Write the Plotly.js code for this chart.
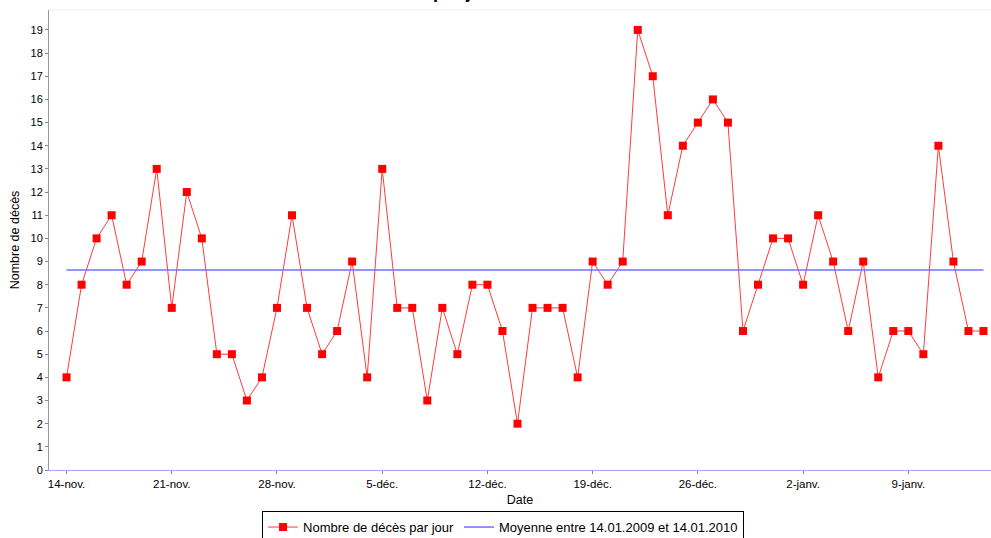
<!DOCTYPE html>
<html>
<head>
<meta charset="utf-8">
<script src="https://cdn.plot.ly/plotly-3.0.1.min.js"></script>
<style>
html,body{margin:0;padding:0;background:#fff;}
#chart{width:991px;height:538px;}
</style>
</head>
<body>
<div id="chart"></div>
<script>
// Daily dates 14.11.2009 -> 14.01.2010
const startDate = '2009-11-14';
const deaths = [4,8,10,11,8,9,13,7,12,10,
                5,5,3,4,7,11,7,5,6,9,
                4,13,7,7,3,7,5,8,8,6,
                2,7,7,7,4,9,8,9,19,17,
                11,14,15,16,15,6,8,10,10,8,
                11,9,6,9,4,6,6,5,14,9,
                6,6];
const meanDates = ['2009-11-14', '2010-01-14'];
const meanValues = [8.64, 8.64];
const tickDates = ['2009-11-14','2009-11-21','2009-11-28','2009-12-05','2009-12-12','2009-12-19','2009-12-26','2010-01-02','2010-01-09'];
const tickLabels = ['14-nov.','21-nov.','28-nov.','5-déc.','12-déc.','19-déc.','26-déc.','2-janv.','9-janv.'];
const seriesNames = ['Nombre de décès par jour', 'Moyenne entre 14.01.2009 et 14.01.2010'];
const titleText = 'Nombre de décès par jour du 14.11.2009 au 14.01.2010';

const dates = deaths.map((_, i) => {
  const d = new Date(startDate + 'T00:00:00Z');
  d.setUTCDate(d.getUTCDate() + i);
  return d.toISOString().slice(0, 10);
});

const font = 'Liberation Sans, Arial, sans-serif';

const traces = [
  {
    x: dates, y: deaths, type: 'scatter', mode: 'lines+markers',
    name: seriesNames[0],
    line: {color: '#ff3c3c', width: 1},
    marker: {symbol: 'square', size: 8, color: '#ff0000'}
  },
  {
    x: meanDates, y: meanValues, type: 'scatter', mode: 'lines',
    name: seriesNames[1],
    line: {color: '#7070ff', width: 1.5}
  }
];

const layout = {
  width: 991, height: 538,
  margin: {l: 49, r: 0, t: 10, b: 68},
  paper_bgcolor: '#ffffff', plot_bgcolor: '#ffffff',
  font: {family: font, size: 11, color: '#000'},
  showlegend: true,
  legend: {
    orientation: 'h', x: 0.5076, xref: 'container', xanchor: 'center',
    y: 0.05, yref: 'container', yanchor: 'top',
    bordercolor: '#000', borderwidth: 1, bgcolor: '#fff',
    font: {family: font, size: 13, color: '#000'},
    itemwidth: 30, tracegroupgap: 0
  },
  xaxis: {
    type: 'date',
    range: ['2009-11-12 20:00', '2010-01-14 12:00'],
    tickvals: tickDates, ticktext: tickLabels,
    ticks: 'outside', ticklen: 3, tickcolor: '#888',
    showgrid: false, zeroline: false,
    showline: true, linecolor: '#a8a8e8', linewidth: 1,
    tickfont: {family: font, size: 11.5, color: '#000'},
    title: {text: 'Date', font: {family: font, size: 12.5, color: '#000'}, standoff: 6},
    automargin: false
  },
  yaxis: {
    range: [0, 19.86],
    tickmode: 'linear', tick0: 0, dtick: 1,
    ticks: 'outside', ticklen: 3, tickcolor: '#888',
    showgrid: false, zeroline: false,
    showline: true, linecolor: '#999', linewidth: 1,
    tickfont: {family: font, size: 11, color: '#000'},
    title: {text: 'Nombre de décès', font: {family: font, size: 12.5, color: '#000'}, standoff: 8},
    automargin: false
  },
  annotations: [
    {text: '<b>' + titleText + '</b>', xref: 'paper', yref: 'paper',
     x: 0.489, y: 1, xanchor: 'center', yanchor: 'bottom', yshift: 6,
     showarrow: false, font: {family: font, size: 18, color: '#000'}}
  ],
  shapes: [
    {type: 'line', xref: 'paper', yref: 'paper', x0: 0, x1: 1, y0: 1, y1: 1,
     line: {color: '#eeeeee', width: 1}}
  ]
};

Plotly.newPlot('chart', traces, layout, {displayModeBar: false, staticPlot: true});
</script>
</body>
</html>
